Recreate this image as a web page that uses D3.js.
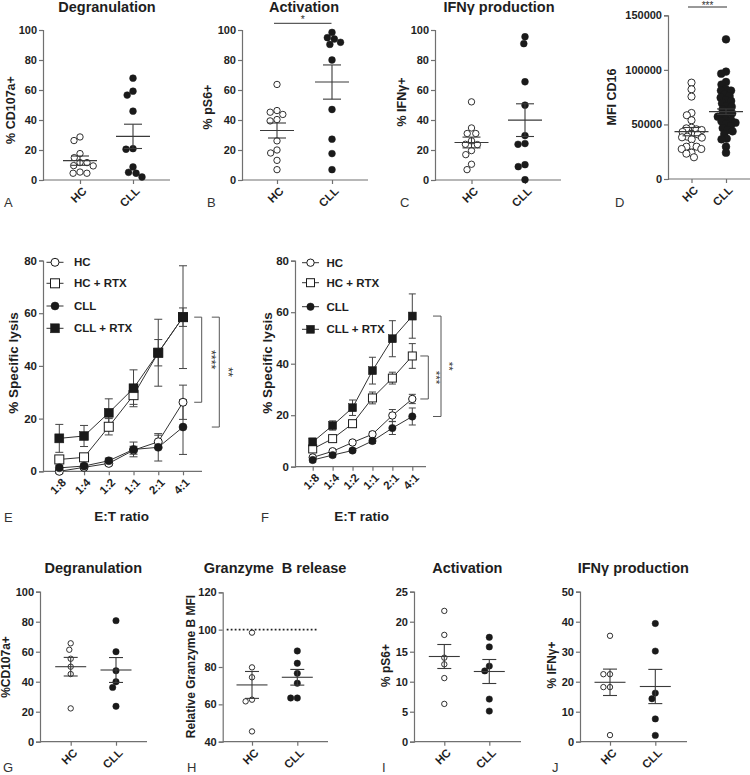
<!DOCTYPE html>
<html><head><meta charset="utf-8">
<script src="https://cdn.jsdelivr.net/npm/d3@7"></script>
<style>
body{margin:0;background:#fff}
svg{display:block}
text{font-family:"Liberation Sans",Arial,Helvetica,sans-serif}
</style>
</head><body>
<svg id="c" width="750" height="775"></svg>
<script>
// ---------- DATA ----------
const dotCats = ["HC", "CLL"];
// A Degranulation (% CD107a+)
const degHC = [28.7, 26.3, 17.6, 14.9, 11.6, 11.6, 9.6, 9.4, 5.3, 4.5, 4.5];
const degCLL = [67.9, 59.2, 56.6, 45.9, 20.9, 20.5, 8.7, 5.1, 4.5, 2.0];
const degMean = [12.9, 29.1], degSem = [3.1, 8.1];
// B Activation (% pS6+)
const actHC = [63.7, 46.3, 45.2, 43.7, 40.3, 39.4, 26.1, 20.0, 18.0, 13.1, 6.9];
const actCLL = [98.4, 94.9, 94.0, 91.8, 90.4, 80.0, 47.0, 27.2, 17.6, 6.9];
const actMean = [33.0, 65.3], actSem = [5.0, 11.4];
// C IFNg production (% IFNg+)
const ifnHC = [52.1, 34.7, 31.0, 31.0, 26.1, 23.8, 23.6, 19.6, 16.9, 10.5, 6.9];
const ifnCLL = [95.5, 90.9, 65.5, 49.9, 29.6, 24.3, 23.8, 10.2, 8.9, 0.2];
const ifnMean = [25.0, 39.9], ifnSem = [3.6, 10.9];
// D MFI CD16
const cd16HC = [88300, 82200, 75500, 60500, 58400, 53800, 47000, 46400, 45500, 44900, 43100, 41500, 40900, 38800, 38200, 37900, 36400, 30500, 29600, 29600, 27500, 27500, 24100, 23200, 19900];
const cd16CLL = [128000, 98400, 96500, 88900, 86500, 82200, 81000, 81000, 77600, 76100, 74500, 72400, 71500, 69300, 66900, 66300, 63800, 61400, 60200, 59000, 57100, 55300, 54100, 52900, 51600, 50400, 48600, 46700, 44900, 43700, 41200, 37000, 36400, 29600, 24100];
const cd16Mean = [43400, 61700], cd16Sem = [3800, 2500];

// E / F specific lysis
const etCats = ["1:8", "1:4", "1:2", "1:1", "2:1", "4:1"];
const seriesNames = ["HC", "HC + RTX", "CLL", "CLL + RTX"];
const eHC = [0.0, 1.5, 3.0, 8.0, 11.2, 26.2], eHCsem = [0.8, 0.8, 0.8, 1.5, 2.5, 6.5];
const eHCR = [4.5, 5.3, 16.9, 28.9, 45.0, 58.5], eHCRsem = [1.5, 1.0, 3.1, 3.5, 5.0, 3.5];
const eCLL = [1.3, 2.0, 4.0, 8.3, 9.1, 16.8], eCLLsem = [1.0, 0.8, 1.0, 2.8, 5.2, 10.4];
const eCLLR = [12.5, 13.4, 22.2, 31.5, 45.0, 58.5], eCLLRsem = [5.3, 4.0, 5.3, 7.0, 12.7, 19.5];
const fHC = [3.6, 6.0, 9.4, 12.6, 19.9, 26.3], fHCsem = [0.5, 0.5, 0.7, 1.0, 2.3, 1.8];
const fHCR = [6.9, 10.9, 16.7, 26.7, 34.4, 43.0], fHCRsem = [1.0, 1.0, 1.0, 2.3, 2.3, 4.8];
const fCLL = [2.6, 4.5, 6.3, 10.0, 15.0, 19.5], fCLLsem = [0.8, 0.8, 0.8, 1.0, 2.5, 3.3];
const fCLLR = [9.6, 16.0, 22.9, 37.3, 49.7, 58.5], fCLLRsem = [1.5, 1.8, 3.0, 5.2, 7.0, 8.6];

// G Degranulation
const gHC = [65.6, 61.3, 55.3, 50.0, 45.1, 22.2];
const gCLL = [80.7, 60.0, 47.3, 40.0, 36.2, 23.6];
const gMean = [50.0, 47.8], gSem = [6.2, 8.3];
// H Granzyme B release
const hHC = [98.4, 79.8, 74.5, 62.5, 61.6, 45.5];
const hCLL = [88.6, 82.0, 76.6, 71.3, 63.4, 63.4];
const hMean = [70.4, 74.5], hSem = [7.2, 4.2];
// I Activation
const iHC = [21.8, 17.8, 14.0, 12.9, 10.6, 6.3];
const iCLL = [17.4, 15.8, 12.6, 11.8, 7.1, 5.1];
const iMean = [14.2, 11.7], iSem = [2.0, 2.0];
// J IFNg production
const jHC = [35.3, 22.5, 22.5, 18.2, 18.2, 2.2];
const jCLL = [39.4, 30.2, 16.2, 14.3, 7.6, 2.1];
const jMean = [19.8, 18.4], jSem = [4.4, 5.7];

// ---------- DRAWING ----------
const svg = d3.select("#c");
const AXC = "#707070", TXC = "#1e1e1e", MK = "#1a1a1a";

function styleAxis(g, fs) {
  g.attr("font-family", null).attr("font-size", null);
  g.select(".domain").attr("stroke", AXC).attr("stroke-width", 1.2);
  g.selectAll(".tick line").attr("stroke", AXC).attr("stroke-width", 1.2);
  g.selectAll(".tick text").attr("fill", TXC).attr("font-weight", "bold").attr("font-size", fs || 11);
}

// x axis with rotated category labels
function catAxis(x, cats, ax, xEnd, y0, fs) {
  svg.append("line").attr("x1", ax).attr("x2", xEnd).attr("y1", y0).attr("y2", y0)
    .attr("stroke", AXC).attr("stroke-width", 1.2);
  const xa = svg.append("g").attr("transform", `translate(0,${y0})`)
    .call(d3.axisBottom(x).tickSize(4).tickSizeOuter(0).tickFormat(""));
  xa.select(".domain").remove();
  styleAxis(xa);
  const lg = svg.append("g").selectAll("g").data(cats).join("g")
    .attr("transform", d => `translate(${x(d) + 4.5},${y0 + 9})`);
  lg.append("text")
    .attr("transform", "rotate(-45)")
    .attr("text-anchor", "end").attr("dy", "0.35em")
    .attr("font-weight", "bold").attr("font-size", fs).attr("fill", TXC).text(d => d);
}

function swarm(vals, y, r) {
  const pts = vals.map(v => ({ v, y: y(v) })).sort((a, b) => a.y - b.y);
  const placed = [];
  pts.forEach(p => {
    const cands = [0];
    placed.forEach(q => {
      const dy = Math.abs(q.y - p.y);
      if (dy < 2 * r) {
        const dx = Math.sqrt(4 * r * r - dy * dy);
        cands.push(q.dx + dx + 0.01, q.dx - dx - 0.01);
      }
    });
    cands.sort((a, b) => Math.abs(a) - Math.abs(b) || a - b);
    for (const c of cands) {
      if (placed.every(q => { const dx = q.dx - c, dy = q.y - p.y; return dx * dx + dy * dy >= 4 * r * r - 0.05; })) { p.dx = c; break; }
    }
    if (p.dx === undefined) p.dx = 0;
    placed.push(p);
  });
  return placed;
}

function ylabel(text, x, y, fs) {
  svg.append("text").attr("transform", `translate(${x},${y}) rotate(-90)`)
    .attr("text-anchor", "middle").attr("dy", "0.35em")
    .attr("font-weight", "bold").attr("font-size", fs).attr("fill", TXC).text(text);
}
function title(text, x, y, fs) {
  svg.append("text").attr("x", x).attr("y", y).attr("text-anchor", "middle")
    .attr("font-weight", "bold").attr("font-size", fs || 14.5).attr("fill", TXC)
    .style("white-space", "pre").text(text);
}
function letter(t, x, y) {
  svg.append("text").attr("x", x).attr("y", y).attr("font-size", 13).attr("fill", "#333").text(t);
}

function dotPanel(c) {
  const y = d3.scaleLinear().domain(c.domain).range([c.y0, c.y1]);
  const x = d3.scalePoint().domain(dotCats).range(c.cx);
  const ya = svg.append("g").attr("transform", `translate(${c.ax},0)`)
    .call(d3.axisLeft(y).tickValues(c.ticks).tickSize(4).tickPadding(2).tickFormat(d3.format("d")));
  styleAxis(ya);
  catAxis(x, dotCats, c.ax, c.xEnd, c.y0, 11.5);
  [c.hc, c.cll].forEach((vals, gi) => {
    const cx = x(dotCats[gi]);
    const pts = swarm(vals, y, c.sr);
    svg.append("g").selectAll("circle").data(pts).join("circle")
      .attr("cx", d => cx + d.dx).attr("cy", d => d.y)
      .attr("r", gi === 0 ? c.r[0] : c.r[1])
      .attr("fill", gi === 0 ? "#fff" : MK)
      .attr("stroke", MK).attr("stroke-width", gi === 0 ? 0.9 : 0.5);
  });
  dotCats.forEach((k, gi) => {
    const cx = x(k), m = c.mean[gi], s = c.sem[gi];
    const g = svg.append("g").attr("stroke", "#3a3a3a").attr("stroke-width", 1.1);
    g.append("line").attr("x1", cx - c.mh).attr("x2", cx + c.mh).attr("y1", y(m)).attr("y2", y(m));
    g.append("line").attr("x1", cx).attr("x2", cx).attr("y1", y(m - s)).attr("y2", y(m + s));
    g.append("line").attr("x1", cx - c.cap).attr("x2", cx + c.cap).attr("y1", y(m + s)).attr("y2", y(m + s));
    g.append("line").attr("x1", cx - c.cap).attr("x2", cx + c.cap).attr("y1", y(m - s)).attr("y2", y(m - s));
  });
  if (c.title) title(c.title, c.tx, c.ty, c.tfs);
  ylabel(c.ylab, c.ylx, c.yly, c.ylfs || 12.5);
  return { x, y };
}

// Top row
dotPanel({ ax: 43, xEnd: 170, y0: 180, y1: 30, domain: [0, 100], ticks: [0, 20, 40, 60, 80, 100],
  cx: [80, 133], hc: degHC, cll: degCLL, mean: degMean, sem: degSem, r: [3.2, 3.4], sr: 3.5, mh: 17, cap: 9,
  title: "Degranulation", tx: 107, ty: 11.5, ylab: "% CD107a+", ylx: 11, yly: 110 });
dotPanel({ ax: 242, xEnd: 368, y0: 180, y1: 30, domain: [0, 100], ticks: [0, 20, 40, 60, 80, 100],
  cx: [277, 332], hc: actHC, cll: actCLL, mean: actMean, sem: actSem, r: [3.2, 3.4], sr: 3.5, mh: 17, cap: 9,
  title: "Activation", tx: 304, ty: 11.5, ylab: "% pS6+", ylx: 208, yly: 107 });
dotPanel({ ax: 435, xEnd: 561, y0: 180, y1: 30, domain: [0, 100], ticks: [0, 20, 40, 60, 80, 100],
  cx: [471.5, 525], hc: ifnHC, cll: ifnCLL, mean: ifnMean, sem: ifnSem, r: [3.2, 3.4], sr: 3.5, mh: 17, cap: 9,
  title: "IFNγ production", tx: 499, ty: 11.5, ylab: "% IFNγ+", ylx: 401.5, yly: 102 });
dotPanel({ ax: 668, xEnd: 752, y0: 179, y1: 15.3, domain: [0, 150000], ticks: [0, 50000, 100000, 150000],
  cx: [691.5, 726], hc: cd16HC, cll: cd16CLL, mean: cd16Mean, sem: cd16Sem, r: [3.6, 3.9], sr: 2.6, mh: 17, cap: 9,
  title: null, ylab: "MFI CD16", ylx: 611.7, yly: 97 });

function sig(x1, x2, yl, txt, ty, fs) {
  svg.append("line").attr("x1", x1).attr("x2", x2).attr("y1", yl).attr("y2", yl).attr("stroke", "#333").attr("stroke-width", 1);
  svg.append("text").attr("x", (x1 + x2) / 2).attr("y", ty).attr("text-anchor", "middle")
    .attr("font-size", fs).attr("fill", "#333").text(txt);
}
sig(274, 331.5, 23.3, "*", 23, 10.5);
sig(688, 727, 7, "***", 8.5, 10);

letter("A", 4, 207); letter("B", 207, 207); letter("C", 400, 207); letter("D", 615, 207);

// ---------- E / F line panels ----------
function linePanel(c) {
  const x = d3.scalePoint().domain(etCats).range(c.cx);
  const y = d3.scaleLinear().domain([0, 80]).range([c.y0, c.y80]);
  const ya = svg.append("g").attr("transform", `translate(${c.ax},0)`)
    .call(d3.axisLeft(y).tickValues([0, 20, 40, 60, 80]).tickSize(4).tickPadding(2));
  styleAxis(ya, 11.5);
  catAxis(x, etCats, c.ax, c.xEnd, c.y0, 11.5);

  const series = c.series;
  const line = d3.line().x((d, i) => x(etCats[i])).y(d => y(d));
  series.forEach(s => {
    svg.append("path").attr("d", line(s.v)).attr("fill", "none").attr("stroke", "#333").attr("stroke-width", 1);
  });
  series.forEach(s => {
    const g = svg.append("g").attr("stroke", "#444").attr("stroke-width", 1);
    s.v.forEach((v, i) => {
      const cx = x(etCats[i]);
      g.append("line").attr("x1", cx).attr("x2", cx).attr("y1", y(v - s.e[i])).attr("y2", y(v + s.e[i]));
      [v - s.e[i], v + s.e[i]].forEach(t => g.append("line").attr("x1", cx - c.cap).attr("x2", cx + c.cap).attr("y1", y(t)).attr("y2", y(t)));
    });
  });
  function marker(g, kind, cx, cy, sz) {
    const open = kind === 0 || kind === 1;
    const sq = kind === 1 || kind === 3;
    const el = sq ? g.append("rect").attr("x", cx - sz / 2).attr("y", cy - sz / 2).attr("width", sz).attr("height", sz)
                  : g.append("circle").attr("cx", cx).attr("cy", cy).attr("r", sz / 2);
    el.attr("fill", open ? "#fff" : MK).attr("stroke", MK).attr("stroke-width", open ? 1 : 0.5);
  }
  series.forEach((s, si) => {
    const g = svg.append("g");
    s.v.forEach((v, i) => marker(g, si, x(etCats[i]), y(v), si % 2 === 1 ? c.sq : c.ci));
  });
  seriesNames.forEach((n, i) => {
    const ly = c.legY[i];
    svg.append("line").attr("x1", c.legX - 8.5).attr("x2", c.legX + 8.5).attr("y1", ly).attr("y2", ly).attr("stroke", "#333").attr("stroke-width", 1);
    marker(svg, i, c.legX, ly, i % 2 === 1 ? c.sq : c.ci);
    svg.append("text").attr("x", c.legTX).attr("y", ly).attr("dy", "0.36em").attr("font-weight", "bold")
      .attr("font-size", 11.5).attr("fill", TXC).text(n);
  });
  c.brackets.forEach(b => {
    const y1 = y(b.a), y2 = y(b.b);
    svg.append("path").attr("d", `M${b.x - b.w},${y1}H${b.x}V${y2}H${b.x - b.w}`)
      .attr("fill", "none").attr("stroke", "#555").attr("stroke-width", 1);
    svg.append("text").attr("transform", `translate(${b.tx},${(y1 + y2) / 2}) rotate(90)`)
      .attr("text-anchor", "middle").attr("dy", "0.25em").attr("font-size", b.fs).attr("fill", "#333").text(b.t);
  });
  ylabel("% Specific lysis", c.ylx, 363, 13.5);
  svg.append("text").attr("x", c.xlx).attr("y", 521).attr("text-anchor", "middle")
    .attr("font-weight", "bold").attr("font-size", 13.5).attr("fill", TXC).text("E:T ratio");
}

linePanel({ ax: 43, xEnd: 202, y0: 471.3, y80: 260.5, cx: [59.3, 183], cap: 4, sq: 9, ci: 8,
  series: [{ v: eHC, e: eHCsem }, { v: eHCR, e: eHCRsem }, { v: eCLL, e: eCLLsem }, { v: eCLLR, e: eCLLRsem }],
  legX: 55, legTX: 74, legY: [262.3, 283.3, 306, 328.3],
  brackets: [{ a: 58.5, b: 26.2, x: 201.7, w: 7.5, t: "****", tx: 210, fs: 12.5 }, { a: 58.5, b: 16.8, x: 219.3, w: 7.5, t: "**", tx: 227.5, fs: 12.5 }],
  ylx: 13, xlx: 121.7 });
linePanel({ ax: 295, xEnd: 426, y0: 466.7, y80: 260.7, cx: [312.7, 412.3], cap: 3.5, sq: 8, ci: 7.4,
  series: [{ v: fHC, e: fHCsem }, { v: fHCR, e: fHCRsem }, { v: fCLL, e: fCLLsem }, { v: fCLLR, e: fCLLRsem }],
  legX: 310.5, legTX: 326.5, legY: [262.7, 282.7, 306.7, 329.3],
  brackets: [{ a: 43.0, b: 26.3, x: 428.3, w: 8, t: "***", tx: 435, fs: 11.5 }, { a: 58.5, b: 19.5, x: 441, w: 8, t: "**", tx: 448.3, fs: 11.5 }],
  ylx: 267, xlx: 361.7 });
letter("E", 4, 521.5); letter("F", 261, 521.5);

// ---------- Bottom row ----------
dotPanel({ ax: 40, xEnd: 147, y0: 741.7, y1: 591.7, domain: [0, 100], ticks: [0, 20, 40, 60, 80, 100],
  cx: [70.7, 116], hc: gHC, cll: gCLL, mean: gMean, sem: gSem, r: [2.7, 3.2], sr: 3.3, mh: 15.5, cap: 7,
  title: "Degranulation", tx: 93.3, ty: 573, ylab: "%CD107a+", ylx: 6, yly: 667, ylfs: 12 });
const pH = dotPanel({ ax: 222.7, xEnd: 328, y0: 741.7, y1: 592.3, domain: [40, 120], ticks: [40, 60, 80, 100, 120],
  cx: [252, 297.3], hc: hHC, cll: hCLL, mean: hMean, sem: hSem, r: [2.7, 3.2], sr: 3.3, mh: 15.5, cap: 7,
  title: "Granzyme  B release", tx: 275, ty: 573, ylab: "Relative Granzyme B MFI", ylx: 191, yly: 666.5, ylfs: 12 });
svg.append("line").attr("x1", 226.7).attr("x2", 316.7).attr("y1", pH.y(100)).attr("y2", pH.y(100))
  .attr("stroke", "#222").attr("stroke-width", 1.8).attr("stroke-dasharray", "1.8,2.2");
dotPanel({ ax: 414, xEnd: 521, y0: 741.7, y1: 591.7, domain: [0, 25], ticks: [0, 5, 10, 15, 20, 25],
  cx: [444.3, 489.3], hc: iHC, cll: iCLL, mean: iMean, sem: iSem, r: [2.7, 3.2], sr: 3.3, mh: 15.5, cap: 7,
  title: "Activation", tx: 467.3, ty: 573, ylab: "% pS6+", ylx: 385.5, yly: 665.5, ylfs: 12 });
dotPanel({ ax: 580, xEnd: 687, y0: 741.7, y1: 591.7, domain: [0, 50], ticks: [0, 10, 20, 30, 40, 50],
  cx: [610, 655.3], hc: jHC, cll: jCLL, mean: jMean, sem: jSem, r: [2.7, 3.2], sr: 3.3, mh: 15.5, cap: 7,
  title: "IFNγ production", tx: 633.3, ty: 573, ylab: "% IFNγ+", ylx: 551.7, yly: 665, ylfs: 12 });
letter("G", 3, 772); letter("H", 187, 772); letter("I", 382, 772); letter("J", 552, 772);
</script>
</body></html>
